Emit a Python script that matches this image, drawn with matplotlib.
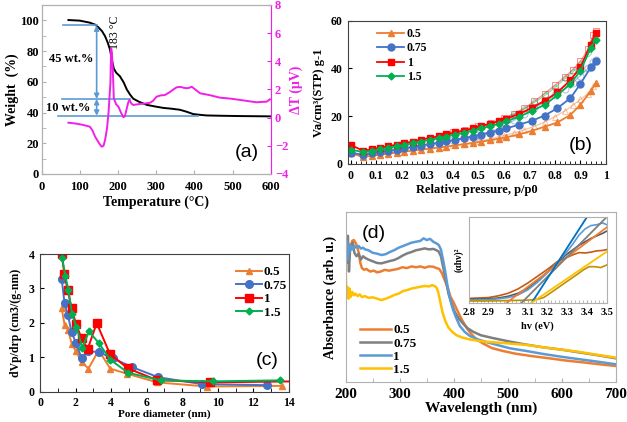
import numpy as np
import matplotlib
matplotlib.use('Agg')
import matplotlib.pyplot as plt
from matplotlib.ticker import MultipleLocator, FixedLocator, FixedFormatter

plt.rcParams['font.family'] = ['Liberation Serif', 'DejaVu Serif']
plt.rcParams['font.weight'] = 'bold'
plt.rcParams['axes.labelweight'] = 'bold'
plt.rcParams['xtick.direction'] = 'in'
plt.rcParams['ytick.direction'] = 'in'

orange  = '#ED7D31'
blue    = '#4472C4'
red     = '#FF0000'
green   = '#00B050'
magenta = '#F020E8'
steel   = '#5B9BD5'
grey    = '#7F7F7F'
yellow  = '#FFC000'
frame   = '#B0B0B0'

labels = ['0.5', '0.75', '1', '1.5']

# ---- (a) TGA / DTA
temp_w = [70, 100, 126, 140, 148, 158, 166, 173, 179, 184, 189, 195, 205, 215, 223,
          232, 240, 255, 275, 300, 319, 340, 362, 380, 397, 415, 432, 470, 520, 560, 600]
weight = [100.2, 99.8, 98.5, 97.2, 95.6, 93.0, 89.7, 85.5, 81.0, 74.0, 68.6, 66.0, 63.6,
          59.5, 55.0, 51.5, 49.0, 47.0, 45.0, 43.8, 43.0, 42.5, 41.8, 40.5, 39.0, 38.5,
          38.1, 37.9, 37.7, 37.6, 37.5]
temp_d = [70, 90, 109, 126, 133, 140, 150, 157, 162, 166, 171, 175, 178, 180, 182, 184,
          186, 189, 195, 201, 208, 214, 218, 223, 227, 230, 235, 240, 257, 270, 284, 292,
          301, 312, 323, 335, 345, 354, 365, 372, 380, 387, 393, 400, 415, 440, 467, 495,
          519, 540, 563, 578, 589, 598]
dta = [-0.36, -0.42, -0.52, -0.64, -0.90, -1.35, -1.80, -2.06, -2.00, -1.59, -0.80, 0.31,
       1.60, 2.44, 4.93, 4.60, 3.60, 1.38, 0.95, 0.78, 0.35, 0.03, 0.10, 0.67, 1.10, 1.26,
       1.00, 0.90, 0.97, 1.00, 1.06, 1.20, 1.49, 1.58, 1.61, 1.80, 2.00, 2.16, 2.18, 2.12,
       2.09, 2.12, 2.20, 2.05, 1.73, 1.60, 1.42, 1.35, 1.26, 1.18, 1.09, 1.12, 1.13, 1.30]

# ---- (b) N2 isotherms
p_ads = [0.0, 0.05, 0.085, 0.115, 0.145, 0.18, 0.21, 0.245, 0.275, 0.31, 0.345, 0.375,
         0.41, 0.445, 0.48, 0.51, 0.545, 0.58, 0.61, 0.66, 0.71, 0.76, 0.81, 0.86, 0.90,
         0.94, 0.96]
ads_05 = [4.5, 3.0, 3.4, 3.9, 4.3, 4.8, 5.2, 5.6, 6.0, 6.4, 6.9, 7.3, 7.8, 8.3, 8.8, 9.3,
          9.9, 10.6, 11.2, 12.4, 13.9, 15.6, 17.4, 20.5, 24.8, 30.5, 33.8]
ads_075 = [4.8, 3.8, 4.4, 5.0, 5.5, 6.0, 6.6, 7.1, 7.7, 8.3, 8.9, 9.5, 10.1, 10.8, 11.5,
           12.3, 13.1, 14.0, 14.9, 16.5, 18.1, 20.3, 23.4, 27.5, 33.5, 40.5, 43.0]
ads_1 = [8.0, 5.5, 6.2, 6.8, 7.4, 8.1, 8.7, 9.4, 10.2, 10.9, 11.6, 12.4, 13.2, 14.0, 14.9,
         15.8, 16.8, 17.9, 19.0, 21.0, 23.5, 26.5, 30.0, 35.0, 40.5, 50.0, 55.0]
ads_15 = [6.0, 5.0, 5.5, 6.1, 6.7, 7.4, 8.0, 8.7, 9.4, 10.1, 10.8, 11.5, 12.3, 13.1, 14.0,
          14.9, 15.8, 16.8, 17.9, 19.8, 22.2, 24.8, 28.8, 33.5, 39.0, 48.5, 52.0]
p_des = [0.96, 0.95, 0.93, 0.90, 0.87, 0.84, 0.80, 0.76, 0.72, 0.68, 0.64, 0.60, 0.55,
         0.50, 0.45, 0.40]
des_05 = [33.8, 32.5, 29.5, 27.0, 24.5, 22.3, 19.8, 17.6, 15.8, 14.3, 13.0, 11.9, 10.6,
          9.5, 8.5, 7.8]
des_075 = [43.5, 42.5, 40.0, 37.0, 34.0, 31.5, 28.8, 26.0, 23.5, 20.8, 18.3, 15.8, 13.4,
           12.3, 11.0, 10.1]
des_1 = [55.5, 54.0, 48.0, 43.0, 39.5, 36.5, 33.0, 29.5, 26.3, 23.3, 21.0, 19.3, 17.0,
         15.9, 14.3, 13.2]
des_15 = [52.5, 51.5, 46.5, 42.0, 38.5, 35.8, 32.0, 28.7, 25.8, 23.0, 20.8, 19.0, 16.8,
          15.6, 14.0, 12.8]
p_ticklabels = ['0', '0.1', '0.2', '0.3', '0.4', '0.5', '0.6', '0.7', '0.8', '0.9', '1']

# ---- (c) pore size distribution
d_05 = [1.22, 1.38, 1.57, 1.78, 2.02, 2.34, 2.72, 3.3, 3.95, 4.9, 6.6, 9.4, 13.6]
v_05 = [2.42, 1.95, 1.80, 1.40, 1.17, 0.87, 0.67, 1.20, 0.67, 0.52, 0.27, 0.15, 0.17]
d_075 = [1.22, 1.38, 1.57, 1.78, 2.02, 2.34, 2.68, 3.3, 4.1, 5.15, 6.65, 9.1, 12.75]
v_075 = [3.27, 2.57, 2.22, 1.72, 1.42, 0.97, 1.18, 1.15, 0.97, 0.72, 0.42, 0.22, 0.19]
d_1 = [1.22, 1.37, 1.56, 1.78, 2.02, 2.34, 2.68, 3.19, 3.93, 4.93, 6.56, 9.56, 14.4]
v_1 = [4.00, 3.42, 2.94, 2.42, 1.97, 1.55, 1.24, 1.99, 1.10, 0.68, 0.34, 0.27, 0.30]
d_15 = [1.25, 1.42, 1.60, 1.80, 2.05, 2.38, 2.75, 3.3, 3.95, 4.95, 6.8, 9.75, 13.5]
v_15 = [3.88, 3.37, 2.95, 2.25, 1.88, 1.28, 1.75, 1.42, 0.93, 0.55, 0.33, 0.30, 0.33]

# ---- (d) UV-vis absorbance
wl_05 = [200, 203, 206, 209, 212, 215, 218, 221, 224, 227, 230, 234, 238, 245, 252, 258,
         265, 272, 280, 288, 296, 305, 313, 322, 330, 338, 346, 354, 362, 368, 373, 378,
         383, 388, 394, 400, 408, 416, 424, 433, 442, 455, 470, 490, 515, 545, 575, 605,
         640, 670, 700]
ab_05 = [0.74, 0.78, 0.76, 0.80, 0.83, 0.835, 0.82, 0.80, 0.76, 0.70, 0.67, 0.66, 0.665,
         0.65, 0.655, 0.645, 0.65, 0.66, 0.655, 0.66, 0.665, 0.675, 0.67, 0.68, 0.675,
         0.68, 0.672, 0.68, 0.678, 0.67, 0.665, 0.64, 0.60, 0.56, 0.50, 0.465, 0.41, 0.36,
         0.316, 0.28, 0.25, 0.225, 0.20, 0.183, 0.166, 0.152, 0.14, 0.127, 0.115, 0.104,
         0.094]
wl_075 = [200, 202, 204, 206, 208, 210, 213, 216, 220, 224, 228, 232, 236, 242, 250, 258,
          266, 274, 282, 290, 298, 306, 314, 322, 330, 338, 346, 354, 362, 368, 372, 376,
          380, 385, 390, 396, 402, 410, 418, 426, 436, 450, 470, 500, 530, 565, 600, 630,
          665, 700]
ab_075 = [0.88, 0.70, 0.86, 0.65, 0.78, 0.80, 0.82, 0.76, 0.74, 0.755, 0.72, 0.74, 0.73,
          0.72, 0.71, 0.70, 0.698, 0.705, 0.712, 0.718, 0.73, 0.745, 0.757, 0.765, 0.775,
          0.78, 0.786, 0.78, 0.783, 0.775, 0.767, 0.74, 0.68, 0.60, 0.52, 0.46, 0.41, 0.37,
          0.34, 0.315, 0.295, 0.275, 0.26, 0.24, 0.222, 0.204, 0.19, 0.175, 0.158, 0.139]
wl_1 = [200, 202, 204, 206, 208, 210, 213, 216, 220, 224, 228, 232, 236, 242, 250, 258,
        266, 274, 282, 290, 298, 306, 314, 322, 330, 338, 344, 350, 356, 362, 368, 372,
        376, 380, 384, 388, 393, 398, 404, 411, 420, 430, 445, 460, 480, 504, 535, 565,
        600, 630, 665, 700]
ab_1 = [0.79, 0.83, 0.72, 0.81, 0.77, 0.80, 0.78, 0.80, 0.79, 0.80, 0.785, 0.79, 0.78,
        0.775, 0.76, 0.755, 0.747, 0.752, 0.765, 0.776, 0.79, 0.80, 0.81, 0.82, 0.825,
        0.83, 0.845, 0.835, 0.842, 0.825, 0.815, 0.806, 0.78, 0.72, 0.65, 0.57, 0.49, 0.43,
        0.38, 0.33, 0.295, 0.27, 0.25, 0.235, 0.218, 0.198, 0.182, 0.165, 0.148, 0.135,
        0.12, 0.104]
wl_15 = [200, 201, 203, 205, 207, 209, 212, 215, 218, 222, 226, 230, 236, 242, 250, 258,
         266, 274, 282, 290, 298, 306, 314, 322, 330, 338, 346, 354, 360, 365, 368, 371,
         375, 379, 384, 390, 397, 405, 415, 430, 455, 480, 504, 535, 565, 600, 630, 665,
         700]
ab_15 = [0.69, 0.50, 0.56, 0.49, 0.55, 0.50, 0.53, 0.51, 0.52, 0.505, 0.515, 0.50, 0.505,
         0.495, 0.498, 0.49, 0.482, 0.49, 0.50, 0.512, 0.52, 0.535, 0.541, 0.55, 0.555,
         0.56, 0.565, 0.562, 0.57, 0.563, 0.555, 0.53, 0.47, 0.41, 0.36, 0.32, 0.295,
         0.275, 0.262, 0.25, 0.238, 0.232, 0.226, 0.218, 0.204, 0.19, 0.178, 0.16, 0.143]

# ---- (d) inset Tauc plot
hv = [2.8, 2.9, 2.95, 3.0, 3.05, 3.1, 3.15, 3.2, 3.25, 3.3, 3.33, 3.36, 3.39, 3.42, 3.45,
      3.48, 3.5]
tauc_05 = [0.05, 0.06, 0.08, 0.11, 0.16, 0.23, 0.31, 0.39, 0.48, 0.53, 0.56, 0.585, 0.58,
           0.59, 0.605, 0.61, 0.62]
tauc_075 = [0.04, 0.045, 0.055, 0.075, 0.11, 0.17, 0.26, 0.36, 0.47, 0.57, 0.62, 0.67,
            0.71, 0.75, 0.78, 0.81, 0.835]
tauc_1 = [0.03, 0.035, 0.045, 0.06, 0.09, 0.15, 0.24, 0.35, 0.47, 0.60, 0.69, 0.79, 0.86,
          0.90, 0.91, 0.93, 0.91]
hv_15 = [2.8, 2.9, 3.0, 3.1, 3.15, 3.18, 3.2, 3.25, 3.3, 3.35, 3.38, 3.41, 3.44, 3.47, 3.5]
tauc_15 = [0.02, 0.02, 0.025, 0.03, 0.04, 0.06, 0.09, 0.17, 0.25, 0.33, 0.38, 0.42, 0.42,
           0.41, 0.44]
fit_05 = ([2.993, 3.505], [0.0, 0.887])
fit_075 = ([3.069, 3.50], [0.0, 1.0])
fit_1 = ([3.12, 3.40], [0.0, 1.0])
fit_15 = ([3.12, 3.50], [0.0, 0.595])
hv_ticks = [2.8, 2.9, 3.0, 3.1, 3.2, 3.3, 3.4, 3.5]
hv_ticklabels = ['2.8', '2.9', '3', '3.1', '3.2', '3.3', '3.4', '3.5']


def style_frame(ax, color):
    for s in ax.spines.values():
        s.set_color(color)
        s.set_linewidth(0.8)


fig = plt.figure(figsize=(6.27, 4.22), dpi=100)

# ================= (a)
ax = fig.add_axes([0.0665, 0.5877, 0.3652, 0.4005])
ax.plot(temp_w, weight, color='black', lw=1.4)
ax.set_xlim(0, 600)
ax.set_ylim(0, 110)
ax.xaxis.set_major_locator(MultipleLocator(100))
ax.yaxis.set_major_locator(FixedLocator([0, 20, 40, 60, 80, 100]))
ax.yaxis.set_minor_locator(MultipleLocator(10))
ax.tick_params(labelsize=9, pad=2, color=frame, length=3)
ax.tick_params(axis='x', pad=5)
ax.tick_params(which='minor', color=frame, length=3)
ax.set_xlabel('Temperature (°C)', fontsize=10, labelpad=2)
ax.set_ylabel('Weight  (%)', fontsize=10, labelpad=1)
style_frame(ax, frame)

ax.plot([55, 144], [96.7, 96.7], color=steel, lw=1.2)
ax.plot([52, 231], [48.8, 48.8], color=steel, lw=1.2)
ax.plot([44, 410], [37.9, 37.9], color=steel, lw=1.2)
ax.annotate('', xy=(144, 96.7), xytext=(144, 48.8),
            arrowprops=dict(arrowstyle='<|-|>', color=steel, lw=1.2,
                            mutation_scale=7, shrinkA=0, shrinkB=0))
ax.annotate('', xy=(144, 48.8), xytext=(144, 37.9),
            arrowprops=dict(arrowstyle='<|-|>', color=steel, lw=1.2,
                            mutation_scale=7, shrinkA=0, shrinkB=0))
ax.text(78, 75, '45 wt.%', fontsize=9, ha='center', va='center')
ax.text(70, 43, '10 wt.%', fontsize=9, ha='center', va='center')
ax.text(193, 103, '183 °C', fontsize=8.5, rotation=90, ha='center', va='top',
        fontweight='normal')
ax.text(537, 14, '(a)', fontsize=14, ha='center', va='center',
        family='Liberation Sans', fontweight='normal')

ax2 = ax.twinx()
ax2.plot(temp_d, dta, color=magenta, lw=1.4)
ax2.set_ylim(-4, 8)
ax2.yaxis.set_major_locator(MultipleLocator(2))
ax2.tick_params(labelsize=9, pad=3, colors=magenta, length=3)
ax2.set_ylabel('ΔT (μV)', fontsize=10, color=magenta, labelpad=1)
style_frame(ax2, frame)
ax2.spines['right'].set_color(magenta)

# ================= (b)
bx = fig.add_axes([0.555, 0.6114, 0.4115, 0.3396])
series_b = [(ads_05, des_05, orange, '^', 5), (ads_075, des_075, blue, 'o', 5),
            (ads_1, des_1, red, 's', 4.5), (ads_15, des_15, green, 'D', 3.5)]
for (ya, yd, c, m, ms), lab in zip(series_b, labels):
    bx.plot(p_des, yd, color=c, lw=0.9, alpha=0.45, marker=m, ms=ms,
            mfc='none', mew=0.7)
for (ya, yd, c, m, ms), lab in zip(series_b, labels):
    bx.plot(p_ads, ya, color=c, lw=1.3, marker=m, ms=ms, label=lab)
bx.set_xlim(-0.01, 1.0)
bx.set_ylim(0, 60)
bx.xaxis.set_minor_locator(MultipleLocator(0.02))
bx.yaxis.set_major_locator(MultipleLocator(20))
bx.set_xticks(np.arange(0, 1.01, 0.1))
bx.set_xticklabels(p_ticklabels)
bx.tick_params(labelsize=8.5, pad=4, length=3)
bx.tick_params(which='minor', length=2)
bx.set_xlabel('Relative pressure, p/p0', fontsize=9, labelpad=2)
bx.set_ylabel('Va/cm³(STP) g-1', fontsize=9, labelpad=4)
style_frame(bx, '#404040')
bx.legend(loc='upper left', bbox_to_anchor=(0.09, 0.99), frameon=False, fontsize=8.5,
          handlelength=2.3, handletextpad=0.2, labelspacing=0.2, borderpad=0)
bx.text(0.9, 7.7, '(b)', fontsize=14, ha='center', va='center',
        family='Liberation Sans', fontweight='normal')

# ================= (c)
cx = fig.add_axes([0.0638, 0.0718, 0.3971, 0.3263])
series_c = [(d_05, v_05, orange, '^', 5), (d_075, v_075, blue, 'o', 5.5),
            (d_1, v_1, red, 's', 5.5), (d_15, v_15, green, 'D', 3.5)]
for (x, y, c, m, ms), lab in zip(series_c, labels):
    cx.plot(x, y, color=c, lw=1.4, marker=m, ms=ms, label=lab)
cx.set_xlim(0, 14)
cx.set_ylim(0, 4)
cx.xaxis.set_major_locator(MultipleLocator(2))
cx.xaxis.set_minor_locator(MultipleLocator(1))
cx.yaxis.set_major_locator(MultipleLocator(1))
cx.tick_params(labelsize=8.5, pad=4, length=3)
cx.tick_params(which='minor', length=3)
cx.set_xlabel('Pore diameter (nm)', fontsize=8, labelpad=0)
cx.set_ylabel('dVp/drp (cm3/(g-nm)', fontsize=8.5, labelpad=5)
style_frame(cx, '#404040')
cx.legend(loc='upper left', bbox_to_anchor=(0.76, 0.96), frameon=False, fontsize=9.5,
          handlelength=2.0, handletextpad=0.1, labelspacing=0.1, borderpad=0)
cx.text(12.77, 0.91, '(c)', fontsize=14, ha='center', va='center',
        family='Liberation Sans', fontweight='normal')

# ================= (d)
dx = fig.add_axes([0.5514, 0.0948, 0.4311, 0.4028])
series_d = [(wl_05, ab_05, orange), (wl_075, ab_075, grey), (wl_1, ab_1, steel),
            (wl_15, ab_15, yellow)]
for (x, y, c), lab in zip(series_d, labels):
    dx.plot(x, y, color=c, lw=1.8, label=lab)
dx.set_xlim(200, 700)
dx.set_ylim(0, 1)
dx.xaxis.set_major_locator(MultipleLocator(100))
dx.xaxis.set_minor_locator(MultipleLocator(50))
dx.set_yticks([])
dx.tick_params(labelsize=11, pad=4, color=frame, length=3)
dx.tick_params(which='minor', color=frame, length=3)
dx.set_xlabel('Wavelength (nm)', fontsize=11, labelpad=1)
dx.set_ylabel('Absorbance (arb. u.)', fontsize=10, labelpad=6)
style_frame(dx, frame)
dx.legend(loc='upper left', bbox_to_anchor=(0.03, 0.38), frameon=False, fontsize=9.5,
          handlelength=2.3, handletextpad=0.2, labelspacing=0.08, borderpad=0)
dx.text(252, 0.876, '(d)', fontsize=14, ha='center', va='center',
        family='Liberation Sans', fontweight='normal')

ix = fig.add_axes([0.7475, 0.2827, 0.2201, 0.2031])
ix.plot(hv, tauc_05, color='#C55A11', lw=1.2)
ix.plot(hv, tauc_075, color='#595959', lw=1.2)
ix.plot(hv, tauc_1, color='#5B9BD5', lw=1.2)
ix.plot(hv_15, tauc_15, color='#BF9000', lw=1.2)
ix.plot(fit_05[0], fit_05[1], color=orange, lw=1.3)
ix.plot(fit_075[0], fit_075[1], color=grey, lw=1.3)
ix.plot(fit_1[0], fit_1[1], color='#0070C0', lw=1.3)
ix.plot(fit_15[0], fit_15[1], color=yellow, lw=1.3)
ix.set_xlim(2.8, 3.5)
ix.set_ylim(0, 1)
ix.xaxis.set_major_locator(FixedLocator(hv_ticks))
ix.xaxis.set_major_formatter(FixedFormatter(hv_ticklabels))
ix.xaxis.set_minor_locator(MultipleLocator(0.02))
ix.set_yticks([])
ix.tick_params(labelsize=7.5, pad=4, color=frame, length=2.5)
ix.tick_params(which='minor', color=frame, length=2.5)
ix.set_xlabel('hv (eV)', fontsize=7.5, labelpad=3)
ix.set_ylabel('(αhν)²', fontsize=7, labelpad=4)
style_frame(ix, frame)

fig.savefig('out.png', dpi=100)
